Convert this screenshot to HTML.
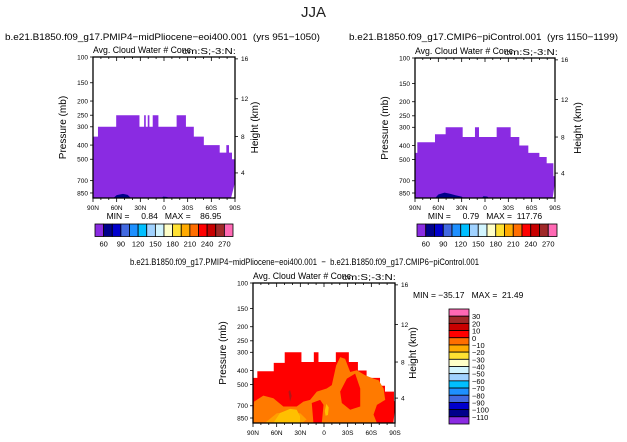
<!DOCTYPE html>
<html><head><meta charset="utf-8"><style>
html,body{margin:0;padding:0;background:#fff;}
svg{display:block;font-family:"Liberation Sans",sans-serif;}
svg text{white-space:pre;}
</style></head><body>
<svg id="c" width="627" height="442" viewBox="0 0 627 442"></svg>
<script>
// ---- data ----
const pTicks=[100,150,200,250,300,400,500,700,850];
const hTickLabels=[4,8,12,16];
const hTickP=[620,350,193,103];
const latTicks=[90,60,30,0,-30,-60,-90];
const latLabels=['90N','60N','30N','0','30S','60S','90S'];
const p1Edges=[90,83.7,60.6,31.1,25.2,23.1,20.6,18.5,14.3,7.1,-16,-27.8,-37.8,-50.5,-70.6,-79,-82.4,-86.2,-90];
const p1Tops=[350,300,250,300,250,300,250,300,250,300,250,300,350,400,450,400,450,500];
const p2Edges=[90,87,64.3,50.6,28.7,12.9,7.7,-15,-33,-44.1,-55.7,-69.9,-79.3,-87.9,-90];
const p2Tops=[450,380,335,300,350,300,350,300,350,400,450,480,530,650];
const p3Edges=[90,84.5,63.7,49.8,28.6,12.9,7,-15,-31.5,-43,-54,-71,-77.3,-88.7,-90];
const p3Tops=[450,405,355,300,350,300,350,300,350,400,450,510,560,650];
const blob1Lat=[64,60,52,46,42],blob1P=[920,880,862,875,920];
const blob1bLat=[3,1,-4,-6],blob1bP=[920,900,905,920];
const blob2Lat=[64,60,52,45,38,30,28],blob2P=[920,870,845,860,880,900,920];
const blob2bLat=[4,2,-3,-5],blob2bP=[920,895,900,920];
const orangeLat=[90,88.7,76.9,64.2,51.5,34.6,26.1,17.6,9.1,-3.4,-9.9,-15.4,-20.5,-26.8,-33.2,-41.6,-52.2,-62.8,-69.2,-75.5,-77.6,-67.1,-62.8,-67.1];
const orangeP=[920,655,596,621,708,708,655,638,560,532,505,370,324,333,410,399,432,455,467,532,638,690,805,920];
const redALat=[-20.5,-29,-39.5,-45.9,-45.9,-33.2,-22.6],redAP=[560,455,421,532,708,745,670];
const redBLat=[15.5,4.9,0.6,2.8,13.4],redBP=[670,638,690,920,920];
const redCLat=[-70,-76,-84,-86,-78,-66],redCP=[920,700,690,800,920,920];
const darkLat=[45,43,41,43],darkP=[560,545,600,655];
const yelLat=[64.2,55.7,43,34.6,30.4,30.4],yelP=[920,785,735,745,826,920];
const yel2Lat=[-1,-3,-6,-5,-2],yel2P=[760,680,720,810,820];
const lorLat=[75,60,45,30,22,28,40,60,75],lorP=[920,790,770,790,870,920,920,920,920];
const barColors=['#8a2be2','#00008b','#0000cd','#4169e1','#1e90ff','#00bfff','#a0d2ff','#d2f5ff','#ffffc8','#ffe132','#ffaa00','#ff6e00','#ff0000','#c80000','#a02828','#ff69b4'];
const barLabels1=['60','90','120','150','180','210','240','270'];
const barLabels3=['30','20','10','0','\u221210','\u221220','\u221230','\u221240','\u221250','\u221260','\u221270','\u221280','\u221290','\u2212100','\u2212110'];

const NS='http://www.w3.org/2000/svg';
const svg=document.getElementById('c');
function mk(tag,attrs,parent){const e=document.createElementNS(NS,tag);for(const k in attrs)e.setAttribute(k,attrs[k]);(parent||svg).appendChild(e);return e;}
function txt(s,x,y,size,anchor,parent,extra){const t=mk('text',Object.assign({x:x,y:y,'font-size':size,'text-anchor':anchor||'start',fill:'#000'},extra||{}),parent);t.textContent=s;return t;}

function panel(name,x0,x1,y0,y1){
  const g=mk('g',{});
  
  
  const pb=920;
  const X=lat=>x0+(90-lat)/180*(x1-x0);
  const Y=p=>y0+(Math.log10(p)-2)/Math.log10(pb/100)*(y1-y0);
  return {g,X,Y,x0,x1,y0,y1};
}
function stepPoly(P,edges,tops,endLat,color,name){
  let pts=[[P.X(90),P.Y(920)]];
  for(let i=0;i<tops.length;i++){pts.push([P.X(edges[i]),P.Y(tops[i])]);pts.push([P.X(edges[i+1]),P.Y(tops[i])]);}
  pts.push([P.X(-90),P.Y(720)]);pts.push([P.X(endLat),P.Y(920)]);
  const e=mk('polygon',{points:pts.map(a=>a.join(',')).join(' '),fill:color},P.g);
  
  
}
function poly(P,lats,ps,color,name){
  const e=mk('polygon',{points:lats.map((l,i)=>P.X(l)+','+P.Y(ps[i])).join(' '),fill:color},P.g);
  
  
}
function axes(P,pLabelX,hLabelX){
  const g=P.g;
  const f=mk('rect',{x:P.x0,y:P.y0,width:P.x1-P.x0,height:P.y1-P.y0,fill:'none',stroke:'#000','stroke-width':1.3},g);
  
  
  for(let l=90;l>=-90;l-=10){
    const x=P.X(l),len=(l%30===0)?4:2;
    mk('line',{x1:x,x2:x,y1:P.y1,y2:P.y1+len,stroke:'#000','stroke-width':0.8},g);
    mk('line',{x1:x,x2:x,y1:P.y0,y2:P.y0+len,stroke:'#000','stroke-width':0.8},g);
  }
  latTicks.forEach((l,i)=>{const t=txt(latLabels[i],P.X(l),P.y1+12,6.5,'middle',g);
    
    });
  pTicks.forEach(p=>{const y=P.Y(p);
    mk('line',{x1:P.x0-3,x2:P.x0,y1:y,y2:y,stroke:'#000','stroke-width':0.8},g);
    const t=txt(String(p),P.x0-5,y+2.3,6.5,'end',g);
    
    });
  hTickP.forEach((p,i)=>{const y=P.Y(p);
    mk('line',{x1:P.x1,x2:P.x1+3,y1:y,y2:y,stroke:'#000','stroke-width':0.8},g);
    const t=txt(String(hTickLabels[i]),P.x1+6,y+2.3,6.5,'start',g);
    
    });
  const cy=(P.y0+P.y1)/2;
  const a=txt('Pressure (mb)',pLabelX,cy,10,'middle',g,{transform:`rotate(-90 ${pLabelX} ${cy})`});
  
  
  const b=txt('Height (km)',hLabelX,cy,10,'middle',g,{transform:`rotate(-90 ${hLabelX} ${cy})`});
  
  
  const c=txt('Avg. Cloud Water # Conc',P.x0,P.y0-4,9.5,'start',g,{textLength:98,lengthAdjust:'spacingAndGlyphs'});
  
  
  const d=txt('cm:S;-3:N:',P.x0+89,P.y0-3,8.5,'start',g,{textLength:54,lengthAdjust:'spacingAndGlyphs'});
  
  
}
function hbar(x0,x1,y,h,name){
  const g=mk('g',{});
  
  
  const w=(x1-x0)/barColors.length;
  barColors.forEach((c,i)=>{const r=mk('rect',{x:x0+i*w,y:y,width:w,height:h,fill:c,stroke:'#000','stroke-width':0.8},g);
    
    });
  barLabels1.forEach((s,i)=>{const t=txt(s,x0+(1+2*i)*w,y+h+10,7.5,'middle',g);
    
    });
}

// Title
const tt=txt('JJA',313.5,17,15,'middle',null,{fill:'#222'});



// Panel 1
const s1=txt('b.e21.B1850.f09_g17.PMIP4\u2212midPliocene\u2212eoi400.001  (yrs 951\u22121050)',5,40,9.5,'start',null,{textLength:315,lengthAdjust:'spacingAndGlyphs'});


const P1=panel('panel1-plot',93,235,57,198);
stepPoly(P1,p1Edges,p1Tops,-85,'#8a2be2','cloud-region');
poly(P1,blob1Lat,blob1P,'#00008b','low-value-blob');
poly(P1,blob1bLat,blob1bP,'#00008b','low-value-blob');
axes(P1,66,258);
const m1=txt('MIN =     0.84   MAX =    86.95',164,219,8.5,'middle');


hbar(95,233,224,12.5,'panel1-colorbar');

// Panel 2
const s2=txt('b.e21.B1850.f09_g17.CMIP6\u2212piControl.001  (yrs 1150\u22121199)',349,40,9.5,'start',null,{textLength:269,lengthAdjust:'spacingAndGlyphs'});


const P2=panel('panel2-plot',415,555,58,198);
stepPoly(P2,p2Edges,p2Tops,-87,'#8a2be2','cloud-region');
poly(P2,blob2Lat,blob2P,'#00008b','low-value-blob');
poly(P2,blob2bLat,blob2bP,'#00008b','low-value-blob');
axes(P2,388,581);
const m2=txt('MIN =     0.79   MAX =  117.76',485,219,8.5,'middle');


hbar(417,557,224,12.5,'panel2-colorbar');

// Panel 3
const s3=txt('b.e21.B1850.f09_g17.PMIP4\u2212midPliocene\u2212eoi400.001  \u2212  b.e21.B1850.f09_g17.CMIP6\u2212piControl.001',130,265,9.5,'start',null,{textLength:349,lengthAdjust:'spacingAndGlyphs'});


const P3=panel('diff-plot',253,395,283,423);
stepPoly(P3,p3Edges,p3Tops,-88,'#ff0000','positive-region');
poly(P3,orangeLat,orangeP,'#ff7a00','negative-region');
poly(P3,lorLat,lorP,'#ffa000','negative-region-2');
poly(P3,redALat,redAP,'#ff0000','positive-blob');
poly(P3,redBLat,redBP,'#ff0000','positive-blob');
poly(P3,redCLat,redCP,'#ff0000','positive-blob');
poly(P3,darkLat,darkP,'#b01818','strong-positive-blob');
poly(P3,yelLat,yelP,'#ffc000','strong-negative-blob');
poly(P3,yel2Lat,yel2P,'#ffc000','strong-negative-blob');
axes(P3,226,416);
const m3=txt('MIN = \u221235.17   MAX =  21.49',413,298,8.5,'start');


(function(){
  const g=mk('g',{});
  
  
  const x0=449,w=20,y0=309,h=115/16;
  const cols=barColors.slice().reverse();
  cols.forEach((c,i)=>{const r=mk('rect',{x:x0,y:y0+i*h,width:w,height:h,fill:c,stroke:'#000','stroke-width':0.8},g);
    
    });
  barLabels3.forEach((s,i)=>{const t=txt(s,x0+w+3,y0+(i+1)*h+3,7.5,'start',g);
    
    });
})();
</script>
</body></html>
